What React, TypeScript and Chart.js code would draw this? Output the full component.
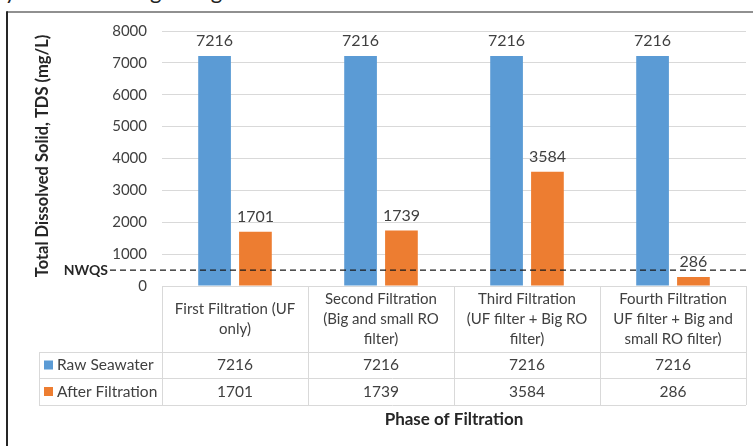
import React, { useEffect, useRef } from "react";
import { Chart, registerables } from "chart.js";

Chart.register(...registerables);

const categories: string[][] = [
  ["First Filtration (UF", "only)"],
  ["Second Filtration", "(Big and small RO", "filter)"],
  ["Third Filtration", "(UF filter + Big RO", "filter)"],
  ["Fourth Filtration", "UF filter + Big and", "small RO filter)"],
];
const seriesNames = ["Raw Seawater", "After Filtration"];
const rawSeawater = [7216, 7216, 7216, 7216];
const afterFiltration = [1701, 1739, 3584, 286];
const yMin = 0;
const yMax = 8000;
const yStep = 1000;
const nwqsValue = 500;
const nwqsLabel = "NWQS";
const yTitle = "Total Dissolved Solid, TDS (mg/L)";
const xTitle = "Phase of Filtration";
const captionText = "ration System Following to Figure 5";

const COLORS = ["#5B9BD5", "#ED7D31"];
const FONT = "Lato, 'Open Sans', sans-serif";
const TEXT = "#404040";
const GRID = "#d9d9d9";

const overlayPlugin = {
  id: "overlay",
  afterDatasetsDraw(chart: any) {
    const ctx = chart.ctx;
    ctx.save();
    ctx.font = `16px ${FONT}`;
    ctx.fillStyle = TEXT;
    ctx.textAlign = "center";
    ctx.textBaseline = "alphabetic";
    chart.data.datasets.forEach((ds: any, di: number) => {
      const meta = chart.getDatasetMeta(di);
      meta.data.forEach((bar: any, i: number) => {
        ctx.fillText(String(ds.data[i]), bar.x, bar.y - 10);
      });
    });
    ctx.restore();
  },
  afterDraw(chart: any) {
    const ctx = chart.ctx;
    const area = chart.chartArea;
    const y = chart.scales.y;
    const x = chart.scales.x;
    ctx.save();

    // frame
    ctx.strokeStyle = "#6b6b6b";
    ctx.lineWidth = 1.5;
    ctx.beginPath();
    ctx.moveTo(7, 12);
    ctx.lineTo(753, 12);
    ctx.stroke();
    ctx.strokeStyle = "#262626";
    ctx.lineWidth = 2;
    ctx.beginPath();
    ctx.moveTo(7, 11.3);
    ctx.lineTo(7, 446);
    ctx.stroke();

    // table
    const n = categories.length;
    const catW = (area.right - area.left) / n;
    const top = area.bottom;
    const r1 = top + 66;
    const r2 = r1 + 26;
    const r3 = r2 + 27;
    const legendLeft = 39;
    ctx.strokeStyle = GRID;
    ctx.lineWidth = 1;
    const hline = (x0: number, x1: number, yy: number) => {
      ctx.beginPath();
      ctx.moveTo(x0, Math.round(yy) + 0.5);
      ctx.lineTo(x1, Math.round(yy) + 0.5);
      ctx.stroke();
    };
    const vline = (xx: number, y0: number, y1: number) => {
      ctx.beginPath();
      ctx.moveTo(Math.round(xx) + 0.5, y0);
      ctx.lineTo(Math.round(xx) + 0.5, y1);
      ctx.stroke();
    };
    hline(area.left, area.right, top);
    hline(legendLeft, area.right, r1);
    hline(legendLeft, area.right, r2);
    hline(legendLeft, area.right, r3);
    vline(legendLeft, r1, r3);
    for (let i = 0; i <= n; i++) {
      vline(area.left + i * catW, top, r3);
    }

    ctx.fillStyle = TEXT;
    ctx.textAlign = "center";
    ctx.textBaseline = "middle";
    categories.forEach((lines, i) => {
      const cx = x.getPixelForValue(i);
      const lh = 20;
      const cy = (top + r1) / 2;
      ctx.font = `15px ${FONT}`;
      lines.forEach((ln, k) => {
        ctx.fillText(ln, cx, cy + (k - (lines.length - 1) / 2) * lh);
      });
      ctx.font = `15.5px ${FONT}`;
      ctx.fillText(String(rawSeawater[i]), cx, (r1 + r2) / 2);
      ctx.fillText(String(afterFiltration[i]), cx, (r2 + r3) / 2);
    });
    // legend keys
    ctx.font = `15.5px ${FONT}`;
    seriesNames.forEach((name, k) => {
      const cy = k === 0 ? (r1 + r2) / 2 : (r2 + r3) / 2;
      ctx.fillStyle = COLORS[k];
      ctx.fillRect(44, cy - 4.5, 9, 9);
      ctx.fillStyle = TEXT;
      ctx.textAlign = "left";
      ctx.fillText(name, 57, cy);
    });

    // NWQS line
    const ny = y.getPixelForValue(nwqsValue);
    ctx.strokeStyle = "#1a1a1a";
    ctx.lineWidth = 1.3;
    ctx.setLineDash([6, 4]);
    ctx.beginPath();
    ctx.moveTo(110, ny);
    ctx.lineTo(749, ny);
    ctx.stroke();
    ctx.setLineDash([]);
    ctx.fillStyle = "#262626";
    ctx.font = `bold 14px ${FONT}`;
    ctx.textAlign = "right";
    ctx.textBaseline = "middle";
    ctx.fillText(nwqsLabel, 108, ny);

    // y title
    ctx.save();
    ctx.translate(43, 156);
    ctx.rotate(-Math.PI / 2);
    ctx.textAlign = "center";
    ctx.textBaseline = "middle";
    ctx.font = `bold 16.5px ${FONT}`;
    ctx.fillStyle = "#262626";
    ctx.fillText(yTitle, 0, 0);
    ctx.restore();

    // x title
    ctx.font = `bold 17px ${FONT}`;
    ctx.fillStyle = "#262626";
    ctx.textAlign = "center";
    ctx.textBaseline = "middle";
    ctx.fillText(xTitle, (area.left + area.right) / 2, 420);

    ctx.restore();
  },
};

export default function App() {
  const ref = useRef<HTMLCanvasElement>(null);
  useEffect(() => {
    document.body.style.margin = "0";
    if (!ref.current) return;
    const chart = new Chart(ref.current, {
      type: "bar",
      data: {
        labels: categories.map((c) => c.join(" ")),
        datasets: [
          { label: seriesNames[0], data: rawSeawater, backgroundColor: COLORS[0] },
          { label: seriesNames[1], data: afterFiltration, backgroundColor: COLORS[1] },
        ],
      },
      options: {
        responsive: false,
        animation: false,
        devicePixelRatio: 1,
        layout: { padding: { top: 31, bottom: 160, right: 7, left: 0 } },
        datasets: { bar: { categoryPercentage: 0.56, barPercentage: 0.8 } },
        plugins: { legend: { display: false }, tooltip: { enabled: false } },
        scales: {
          x: { display: false },
          y: {
            min: yMin,
            max: yMax,
            border: { display: false },
            grid: { color: GRID, drawTicks: false, lineWidth: 1 },
            ticks: {
              stepSize: yStep,
              padding: 15,
              color: TEXT,
              font: { family: FONT, size: 15 },
              callback: (v: any) => String(v),
            },
            afterFit: (s: any) => {
              s.width = 162;
            },
          },
        },
      },
      plugins: [overlayPlugin],
    } as any);
    return () => chart.destroy();
  }, []);
  return (
    <div style={{ position: "relative", width: 753, height: 446, overflow: "hidden", background: "#fff" }}>
      <span
        style={{
          position: "absolute",
          right: 481,
          top: -22,
          whiteSpace: "nowrap",
          fontFamily: "Lato, sans-serif",
          fontSize: 22,
          lineHeight: "26px",
          color: "#222",
        }}
      >
        {captionText}
      </span>
      <canvas ref={ref} width={753} height={446} style={{ position: "absolute", left: 0, top: 0 }} />
    </div>
  );
}
